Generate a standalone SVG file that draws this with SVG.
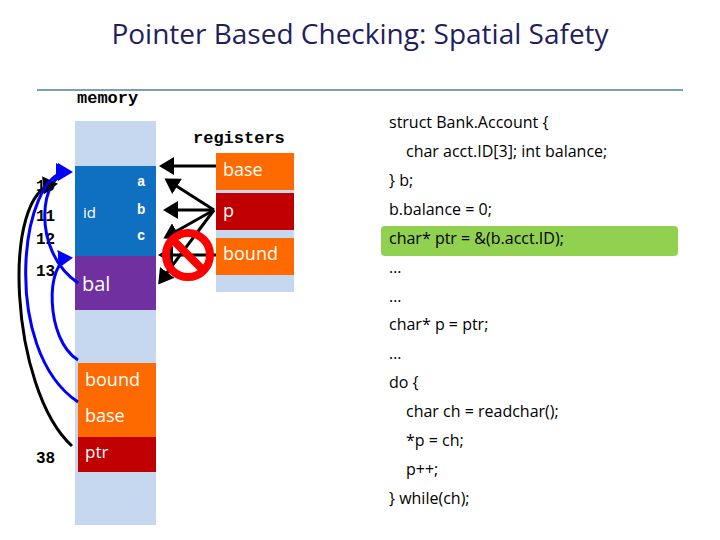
<svg xmlns="http://www.w3.org/2000/svg" width="720" height="540" viewBox="0 0 720 540">
<defs>
<marker id="ah" markerWidth="6" markerHeight="6" refX="4" refY="3" orient="auto" markerUnits="strokeWidth"><path d="M0,0 L5,3 L0,6 z" fill="#000"/></marker>
<marker id="ahb" markerWidth="6" markerHeight="6" refX="4" refY="3" orient="auto" markerUnits="strokeWidth"><path d="M0,0 L5,3 L0,6 z" fill="#0000ff"/></marker>
<style>
.t{font-family:"Open Sans","Liberation Sans",sans-serif;}
.m{font-family:"Liberation Mono",monospace;font-weight:bold;}
.w{fill:#fff;font-family:"Open Sans","Liberation Sans",sans-serif;}
.code{font-family:"Open Sans","Liberation Sans",sans-serif;font-size:16px;fill:#000;}
.bk{stroke:#000;stroke-width:3;fill:none;marker-end:url(#ah);}
.bl{stroke:#0000ff;stroke-width:3;fill:none;marker-end:url(#ahb);}
</style>
</defs>
<rect width="720" height="540" fill="#fff"/>
<text class="t" x="360" y="44" font-size="28" text-anchor="middle" fill="#1f1f5f">Pointer Based Checking: Spatial Safety</text>
<line x1="37" y1="90" x2="683" y2="90" stroke="#7f9bbf" stroke-width="2"/>
<text class="m" x="77" y="103" font-size="17">memory</text>
<text class="m" x="193" y="143" font-size="17">registers</text>
<g id="memory">
<rect x="75" y="121" width="81" height="404" fill="#c5d8ef"/>
<rect x="75" y="166" width="81" height="90" fill="#0f6fc0"/>
<text class="w" x="83" y="218" font-size="15">id</text>
<text class="m" x="137" y="186" font-size="14" fill="#fff">a</text>
<text class="m" x="137" y="214" font-size="14" fill="#fff">b</text>
<text class="m" x="137" y="240" font-size="14" fill="#fff">c</text>
<rect x="75" y="256" width="81" height="54" fill="#7030a0"/>
<text class="w" x="82" y="291" font-size="20">bal</text>
<rect x="78" y="363" width="78" height="74" fill="#ff6a00"/>
<text class="w" x="85" y="386" font-size="18">bound</text>
<text class="w" x="85" y="422" font-size="18">base</text>
<rect x="78" y="437" width="78" height="35" fill="#c00000"/>
<text class="w" x="85" y="458" font-size="17">ptr</text>
</g>
<g id="addresses" class="m" font-size="16" font-weight="normal">
<text x="36" y="191" class="m" font-weight="normal">10</text>
<text x="36" y="221" class="m" font-weight="normal">11</text>
<text x="36" y="244" class="m" font-weight="normal">12</text>
<text x="36" y="276" class="m" font-weight="normal">13</text>
<text x="36" y="463" class="m" font-weight="normal">38</text>
</g>
<g id="registers">
<rect x="216" y="153" width="78" height="139" fill="#c5d8ef"/>
<rect x="216" y="153" width="78" height="37" fill="#ff6a00"/>
<text class="w" x="223" y="176" font-size="18">base</text>
<rect x="216" y="193" width="78" height="37" fill="#c00000"/>
<text class="w" x="223" y="217" font-size="18">p</text>
<rect x="216" y="238" width="78" height="37" fill="#ff6a00"/>
<text class="w" x="223" y="260" font-size="18">bound</text>
</g>
<g id="connectors">
<line class="bk" x1="216" y1="166" x2="162" y2="166"/>
<line class="bk" x1="214" y1="210" x2="167" y2="180"/>
<line class="bk" x1="214" y1="210" x2="166" y2="210"/>
<line class="bk" x1="214" y1="210" x2="166" y2="237"/>
<line class="bk" x1="214" y1="210" x2="160" y2="282"/>
<line class="bk" x1="216" y1="255" x2="161" y2="255"/>
<path class="bl" d="M78,283 C30,250 40,172 70,172"/>
<path class="bl" d="M78,360 C45,340 45,260 70,258"/>
<path class="bk" d="M72,446 C10,390 0,190 55,184"/>
<path class="bl" d="M78,402 C0,350 20,172 68,172"/>
</g>
<g id="nosign">
<circle cx="188" cy="255" r="22" fill="none" stroke="#ff0000" stroke-width="8"/>
<line x1="173" y1="240" x2="203" y2="270" stroke="#ff0000" stroke-width="8"/>
</g>
<g id="code">
<rect x="381" y="226" width="297" height="30" rx="4" fill="#92d050"/>
<text class="code" x="389" y="128">struct Bank.Account {</text>
<text class="code" x="406" y="157">char acct.ID[3];  int balance;</text>
<text class="code" x="389" y="186">} b;</text>
<text class="code" x="389" y="215">b.balance = 0;</text>
<text class="code" x="389" y="244">char* ptr = &amp;(b.acct.ID);</text>
<text class="code" x="389" y="273">…</text>
<text class="code" x="389" y="302">…</text>
<text class="code" x="389" y="330">char* p = ptr;</text>
<text class="code" x="389" y="359">…</text>
<text class="code" x="389" y="388">do {</text>
<text class="code" x="406" y="417">char ch = readchar();</text>
<text class="code" x="406" y="446">*p = ch;</text>
<text class="code" x="406" y="475">p++;</text>
<text class="code" x="389" y="504">} while(ch);</text>
</g>
</svg>
